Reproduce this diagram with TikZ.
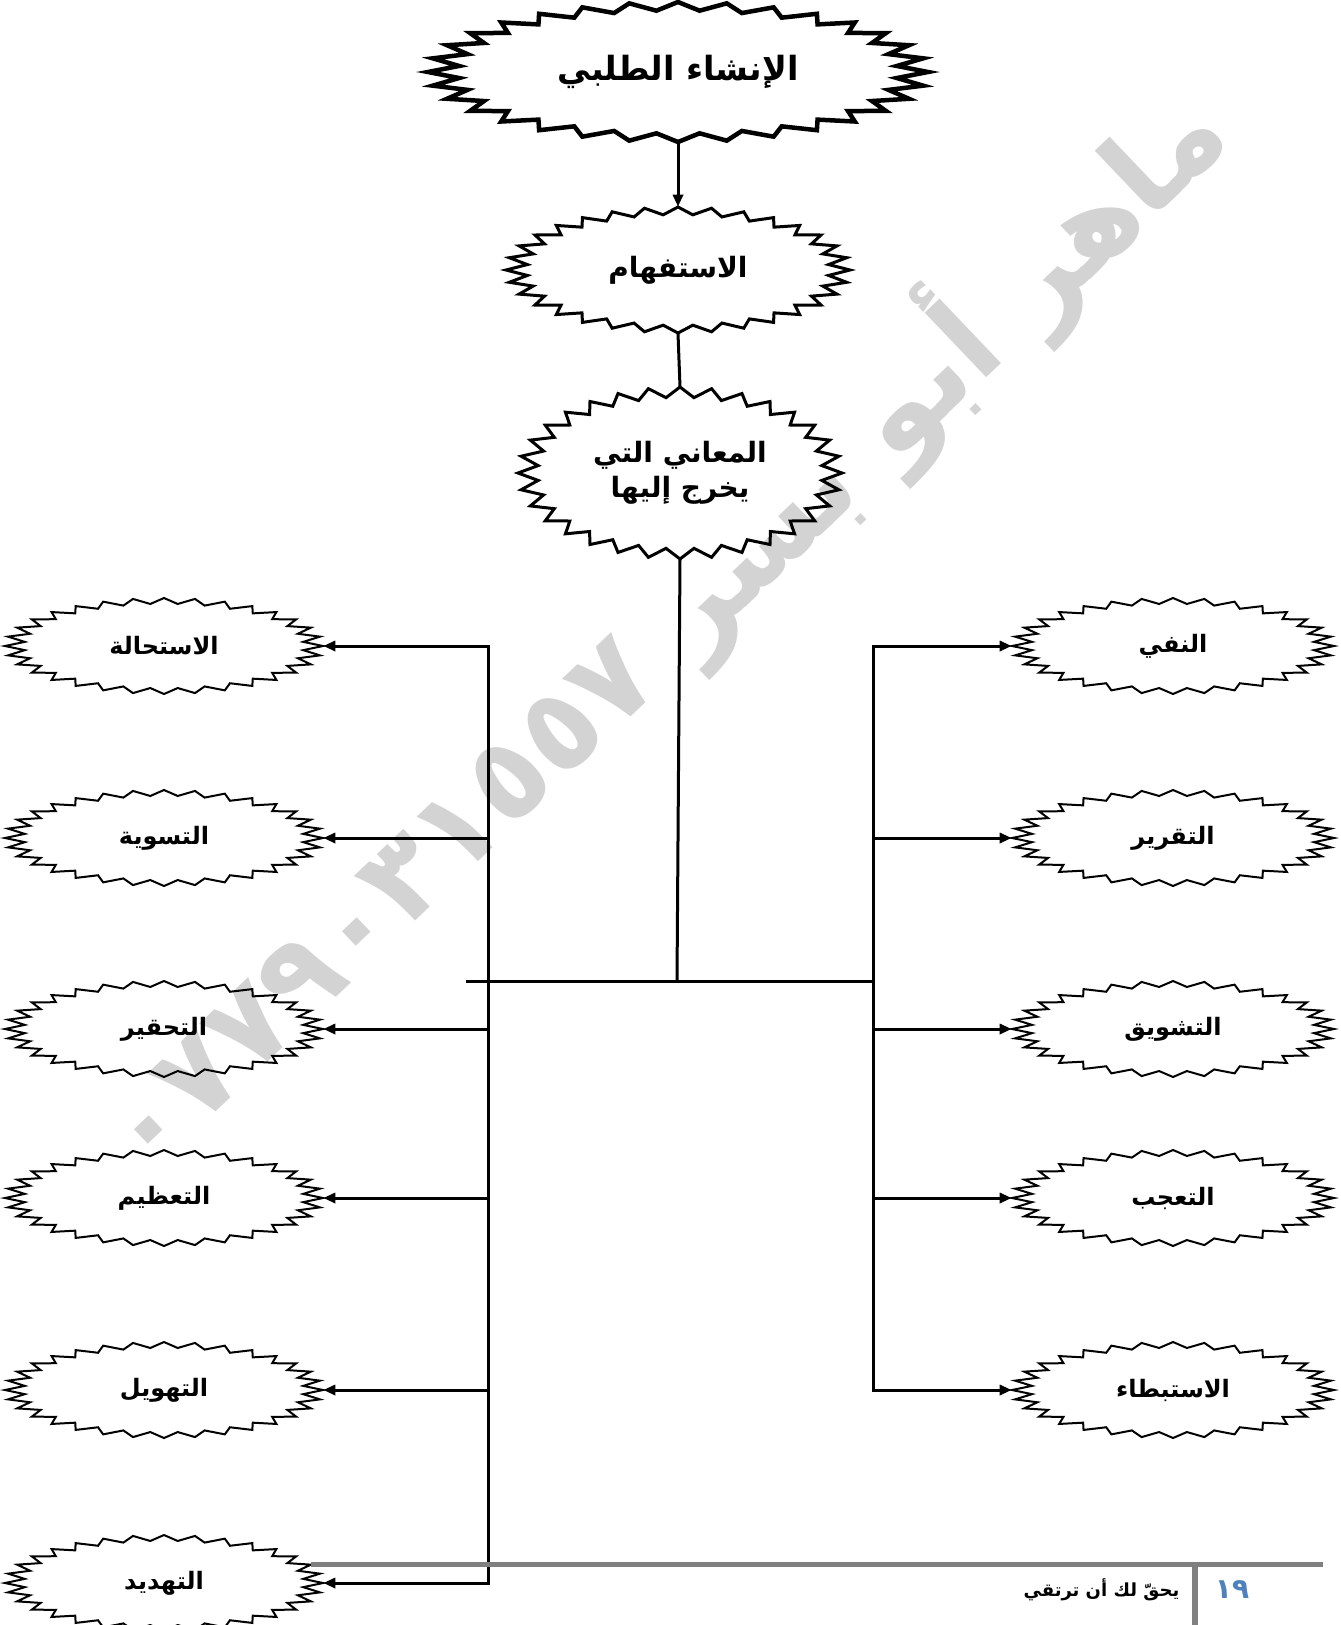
\documentclass[tikz,border=0pt]{standalone}
\usepackage{fontspec}
\usetikzlibrary{shapes.geometric,arrows.meta}
\newfontfamily\arfont[Script=Arabic]{DejaVu Sans}
\TeXXeTstate=1
\newcommand\rtl[1]{\beginR #1\endR}
\definecolor{wmgray}{RGB}{211,211,211}
\definecolor{footgray}{RGB}{128,128,128}
\definecolor{pgblue}{RGB}{79,129,189}
\newdimen\pxu \pxu=0.75pt
% jagged outline: cx cy rx ry linewidth
\newcommand\jagged[5]{%
  \draw[line width=#5, line join=miter] plot[domain=0:360, samples=65, variable=\t]
   ({#1+#3*(0.94+0.06*cos(32*\t))*cos(\t)}, {#2+#4*(0.94+0.06*cos(32*\t))*sin(\t)}) -- cycle;}
\begin{document}
\begin{tikzpicture}[x=0.75pt,y=-0.75pt,
  burst/.style={ellipse, inner sep=0pt, align=center},
  bigburst/.style={burst, minimum width=500\pxu, minimum height=140\pxu,
     font=\arfont\bfseries\fontsize{25}{30}\selectfont},
  midburst/.style={burst, font=\arfont\bfseries\fontsize{21}{25}\selectfont},
  smallburst/.style={burst, minimum width=318\pxu, minimum height=96\pxu,
     font=\arfont\bfseries\fontsize{18}{21}\selectfont},
  conn/.style={line width=3\pxu, line join=miter},
  arr/.style={conn, -{Triangle[length=9pt,width=7.5pt]}},
  barr/.style={conn, {Triangle[length=9pt,width=7.5pt]}-{Triangle[length=9pt,width=7.5pt]}}
]
\useasboundingbox (0,0) rectangle (1341,1625);
\clip (0,0) rectangle (1341,1625);

% watermark
\node[rotate=43.6, text=wmgray, font=\arfont\bfseries\fontsize{88}{88}\selectfont]
  (WM) at (660,628) {\rtl{ماهر أبو بسر \beginL ٠٧٧٩٠٣١٥٥٧\endL}};

% top chain
\node[bigburst] (T) at (678,72) {\rtl{الإنشاء الطلبي}};
\jagged{678}{72}{250}{70}{4.5\pxu}
\node[midburst, minimum width=344\pxu, minimum height=126\pxu] (S) at (678,270) {\rtl{الاستفهام}};
\jagged{678}{270}{172}{63}{3\pxu}
\node[midburst, minimum width=324\pxu, minimum height=172\pxu, font=\arfont\bfseries\fontsize{21}{26}\selectfont]
  (M) at (680,473) {\rtl{المعاني التي}\\\rtl{يخرج إليها}};
\jagged{680}{473}{162}{86}{3\pxu}

\draw[arr] (T.south) -- (S.north);
\draw[conn] (S.south) -- (M.north);

\coordinate (J) at (677,981);
\coordinate (BL) at (466,981);
\coordinate (BR) at (873,981);
\draw[conn] (M.south) -- (J);
\draw[conn] (BL) -- (BR);

% left column
\node[smallburst] (L1) at (164,646) {\rtl{الاستحالة}};
\node[smallburst] (L2) at (164,838) {\rtl{التسوية}};
\node[smallburst] (L3) at (164,1029) {\rtl{التحقير}};
\node[smallburst] (L4) at (164,1198) {\rtl{التعظيم}};
\node[smallburst] (L5) at (164,1390) {\rtl{التهويل}};
\node[smallburst] (L6) at (164,1583) {\rtl{التهديد}};
\foreach \yy in {646,838,1029,1198,1390,1583} {\jagged{164}{\yy}{159}{48}{2\pxu}}

% right column
\node[smallburst, minimum width=322\pxu] (R1) at (1173,646) {\rtl{النفي}};
\node[smallburst, minimum width=322\pxu] (R2) at (1173,838) {\rtl{التقرير}};
\node[smallburst, minimum width=322\pxu] (R3) at (1173,1029) {\rtl{التشويق}};
\node[smallburst, minimum width=322\pxu] (R4) at (1173,1198) {\rtl{التعجب}};
\node[smallburst, minimum width=322\pxu] (R5) at (1173,1390) {\rtl{الاستبطاء}};
\foreach \yy in {646,838,1029,1198,1390} {\jagged{1173}{\yy}{161}{48}{2\pxu}}

\coordinate (LT) at (488,646);
\coordinate (LB) at (488,1583);
\coordinate (RT) at (873,646);
\coordinate (RB) at (873,1390);

\draw[barr] (L1.east) -- (LT) -- (LB) -- (L6.east);
\foreach \n in {L2,L3,L4,L5} {\draw[arr] (LT |- \n.east) -- (\n.east);}
\draw[barr] (R1.west) -- (RT) -- (RB) -- (R5.west);
\foreach \n in {R2,R3,R4} {\draw[arr] (RT |- \n.west) -- (\n.west);}

% footer
\coordinate (F1) at (311,1564);
\coordinate (F2) at (1323,1564);
\coordinate (F3) at (1195,1566);
\coordinate (F4) at (1195,1625);
\draw[footgray, line width=5\pxu] (F1) -- (F2);
\draw[footgray, line width=6\pxu] (F3) -- (F4);
\node[anchor=east, font=\arfont\bfseries\fontsize{13.5}{16}\selectfont] (FT) at (1184,1590) {\rtl{يحقّ لك أن ترتقي}};
\node[text=pgblue, font=\arfont\bfseries\fontsize{21}{24}\selectfont] (PN) at (1232,1590) {١٩};
\end{tikzpicture}
\end{document}
